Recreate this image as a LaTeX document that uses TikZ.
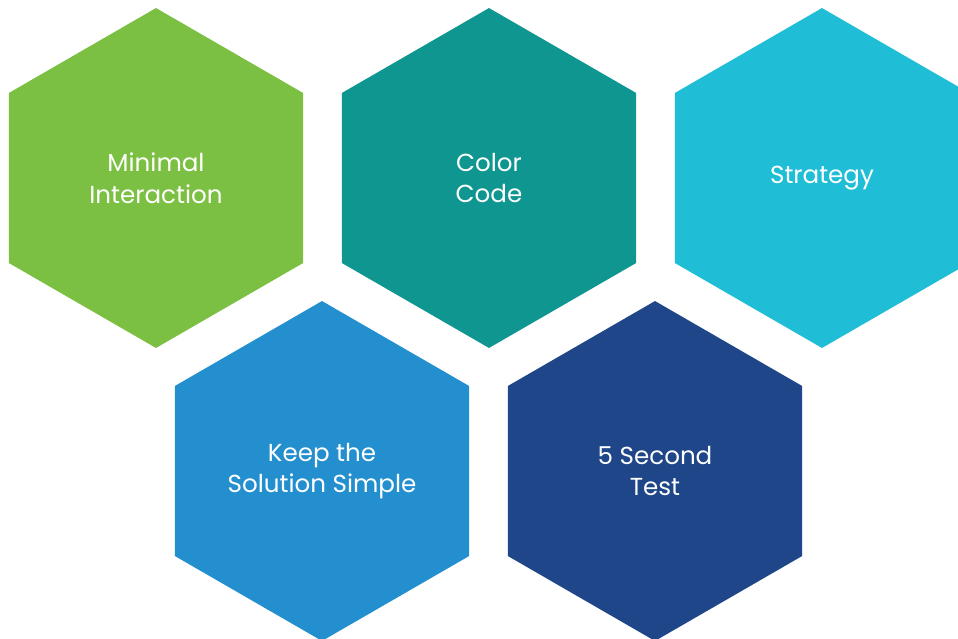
\documentclass[tikz,border=0pt]{standalone}
\usepackage{fontspec}
\setmainfont{Poppins}
\usetikzlibrary{shapes.geometric}
\definecolor{hexgreen}{HTML}{7CC043}
\definecolor{hexteal}{HTML}{109690}
\definecolor{hexcyan}{HTML}{1FBED6}
\definecolor{hexblue}{HTML}{248FCF}
\definecolor{hexnavy}{HTML}{1F4689}
\tikzset{
  hexcell/.style={regular polygon,regular polygon sides=6,shape border rotate=30,
    minimum size=6.8cm,inner sep=0pt,outer sep=0pt,text=white,align=center,
    font=\fontsize{14}{18}\selectfont}
}
\begin{document}
\begin{tikzpicture}[x=0.02cm,y=-0.02cm]
    \useasboundingbox (0,0) rectangle (958,639);
    \begin{scope}
    \clip (0,0) rectangle (958,639);
    \node[hexcell,fill=hexgreen] (minimal) at (156,178) {Minimal\\Interaction};
    \node[hexcell,fill=hexteal] (color) at (489,178) {Color\\Code};
    \node[hexcell,fill=hexcyan] (strategy) at (822,178) {Strategy};
    \node[hexcell,fill=hexblue] (simple) at (322,471) {Keep the\\Solution Simple};
    \node[hexcell,fill=hexnavy] (test) at (655,471) {5 Second\\Test};
    \end{scope}
  \end{tikzpicture}
\end{document}
